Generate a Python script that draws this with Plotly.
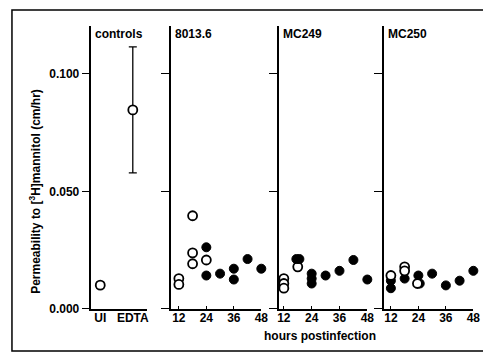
import plotly.graph_objects as go

W, H = 491, 354

# ---- data ----
control_labels = ["UI", "EDTA"]
control_pos = [1, 2]
control_means = [0.0101, 0.0846]
control_err = [0.0012, 0.0268]

hour_ticks = [12, 24, 36, 48]

# 8013.6
p1_open_x = [12, 12, 18, 18, 18, 24]
p1_open_y = [0.0129, 0.0104, 0.0396, 0.0238, 0.0192, 0.0208]
p1_fill_x = [24, 24, 30, 36, 36, 42, 48]
p1_fill_y = [0.0262, 0.0142, 0.0150, 0.0171, 0.0125, 0.0212, 0.0171]

# MC249
p2_open_x = [12, 12, 12, 18]
p2_open_y = [0.0129, 0.0108, 0.0088, 0.0179]
p2_fill_x = [17.4, 18.7, 24, 24, 24, 30, 36, 42, 48]
p2_fill_y = [0.0212, 0.0212, 0.0150, 0.0129, 0.0108, 0.0142, 0.0162, 0.0208, 0.0125]

# MC250
p3_fill_x = [12, 12, 18, 24, 24.6, 30, 36, 42, 48]
p3_fill_y = [0.0120, 0.0088, 0.0129, 0.0142, 0.0108, 0.0150, 0.0100, 0.0120, 0.0162]
p3_open_x = [12, 18, 18, 23.6]
p3_open_y = [0.0142, 0.0179, 0.0162, 0.0108]

panel_titles = ["controls", "8013.6", "MC249", "MC250"]
y_title = "Permeability to [<sup>3</sup>H]mannitol (cm/hr)"
x_title = "hours postinfection"

FONT = "Liberation Sans, Arial, sans-serif"
BOLD = dict(family=FONT, size=12, color="black", weight="bold")

# panel pixel geometry (styling)
px_dom = [(83, 140), (164, 256), (274, 364), (381, 472)]
x_ranges = [(0.73, 2.45), (8.57, 48), (9.9, 48), (9.0, 48)]
y_bot, y_top = 307, 18
y_range = [0, (y_bot - y_top) / 2400]
ydom = [(H - y_bot) / H, (H - y_top) / H]

fig = go.Figure()

open_mk = dict(symbol="circle", size=9, color="white", line=dict(color="black", width=1.8))
fill_mk = dict(symbol="circle", size=9, color="black", line=dict(color="black", width=1))

# controls
fig.add_trace(go.Scatter(
    x=control_pos, y=control_means, mode="markers", marker=open_mk,
    error_y=dict(type="data", array=control_err, color="black", thickness=1.3, width=4),
    xaxis="x", yaxis="y", cliponaxis=False, showlegend=False))

panels = [
    (p1_open_x, p1_open_y, p1_fill_x, p1_fill_y),
    (p2_open_x, p2_open_y, p2_fill_x, p2_fill_y),
    (p3_open_x, p3_open_y, p3_fill_x, p3_fill_y),
]
for i, (ox, oy, fx, fy) in enumerate(panels, start=2):
    order = [("open", ox, oy), ("fill", fx, fy)]
    if i == 4:
        order = [("fill", fx, fy), ("open", ox, oy)]
    for kind, xs, ys in order:
        fig.add_trace(go.Scatter(
            x=xs, y=ys, mode="markers",
            marker=open_mk if kind == "open" else fill_mk,
            xaxis=f"x{i}", yaxis=f"y{i}", cliponaxis=False, showlegend=False))

layout = dict(
    width=W, height=H, margin=dict(l=0, r=0, t=0, b=0),
    paper_bgcolor="white", plot_bgcolor="white",
    font=BOLD, showlegend=False,
)

for k in range(4):
    sfx = "" if k == 0 else str(k + 1)
    x0, x1 = px_dom[k]
    xa = dict(domain=[x0 / W, x1 / W], range=list(x_ranges[k]),
              showline=True, linecolor="black", linewidth=1.6,
              showgrid=False, zeroline=False, anchor="y" + sfx,
              tickfont=BOLD, fixedrange=True, ticklabelstandoff=-3)
    if k == 0:
        xa.update(tickmode="array", tickvals=control_pos, ticktext=control_labels, ticks="")
    else:
        xa.update(tickmode="array", tickvals=hour_ticks, ticks="inside", ticklen=3,
                  tickcolor="black", tickwidth=1)
    ya = dict(domain=ydom, range=y_range, showline=True, linecolor="black", linewidth=1.6,
              showgrid=False, zeroline=False, anchor="x" + sfx,
              tickmode="array", tickvals=[0, 0.05, 0.1], ticks="outside", ticklen=8,
              tickcolor="black", tickwidth=1.2, fixedrange=True)
    if k == 0:
        ya.update(ticktext=["0.000", "0.050", "0.100"], tickfont=BOLD)
    else:
        ya.update(showticklabels=False)
    layout["xaxis" + sfx] = xa
    layout["yaxis" + sfx] = ya

fig.update_layout(**layout)

for k, t in enumerate(panel_titles):
    sfx = "" if k == 0 else str(k + 1)
    fig.add_annotation(text=t, xref=f"x{sfx} domain", yref="paper",
                       x=0, y=(H - 27) / H, xanchor="left", yanchor="middle",
                       xshift=2, showarrow=False, font=BOLD)

fig.add_annotation(text=x_title, xref="paper", yref="paper",
                   x=316 / W, y=(H - 335) / H, xanchor="center", yanchor="middle",
                   showarrow=False, font=BOLD)

fig.add_annotation(text=y_title, xref="paper", yref="paper",
                   x=26 / W, y=(H - 187) / H, xanchor="center", yanchor="middle",
                   textangle=-90, showarrow=False, font=BOLD)

# outer frame
fig.add_shape(type="rect", xref="paper", yref="paper",
              x0=2 / W, x1=489 / W, y0=(H - 350) / H, y1=(H - 2) / H,
              line=dict(color="black", width=1.5), fillcolor="rgba(0,0,0,0)")

fig.write_html("out.html")
